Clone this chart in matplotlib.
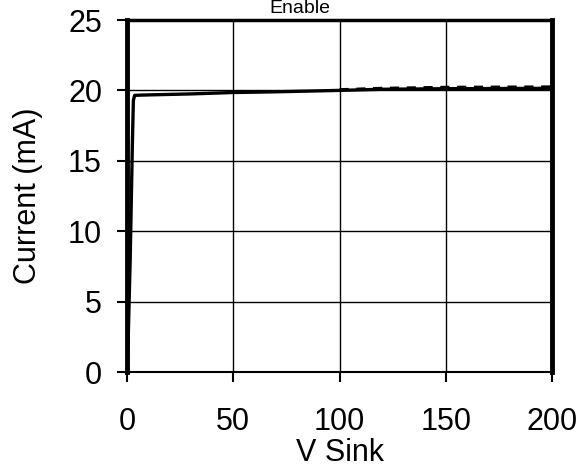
import numpy as np
import matplotlib.pyplot as plt

plt.rcParams['font.family'] = ['Liberation Sans', 'DejaVu Sans']

# solid curve
v_solid = [0, 0.5, 1.5, 2.5, 3.0, 3.6, 10, 30, 50, 70, 100, 120, 150, 200]
i_solid = [0, 2, 8, 16, 19.3, 19.65, 19.68, 19.75, 19.85, 19.9, 20.0, 20.08, 20.12, 20.15]
# dashed curve
v_dash = [100, 120, 150, 200]
i_dash = [20.05, 20.15, 20.22, 20.25]

fig = plt.figure(figsize=(5.8, 4.72), dpi=100)
ax = fig.add_axes([127 / 580, 1 - 372 / 472, 425 / 580, 352 / 472])

ax.plot(v_dash, i_dash, color='black', lw=2.2, ls=(0, (3, 2.5)))
ax.plot(v_solid, i_solid, color='black', lw=2.4)

ax.set_xlim(0, 200)
ax.set_ylim(0, 25)
ax.set_xticks([0, 50, 100, 150, 200])
ax.set_yticks([0, 5, 10, 15, 20, 25])
ax.grid(True, color='black', lw=1)
ax.set_axisbelow(True)
for s in ['left', 'right']:
    ax.spines[s].set_linewidth(3.5)
ax.spines['top'].set_linewidth(2.5)
ax.spines['bottom'].set_linewidth(1.5)
ax.tick_params(axis='both', labelsize=22, direction='out', length=7, width=1.5)
ax.tick_params(axis='y', pad=11)
ax.tick_params(axis='x', pad=18)
ax.set_xlabel('V Sink', fontsize=22, labelpad=1)
ax.set_ylabel('Current (mA)', fontsize=22, labelpad=18)

fig.text(300 / 580, 1 - 13 / 472, 'Enable', fontsize=14, ha='center', va='baseline')

fig.savefig('out.png', dpi=100, facecolor='white')
